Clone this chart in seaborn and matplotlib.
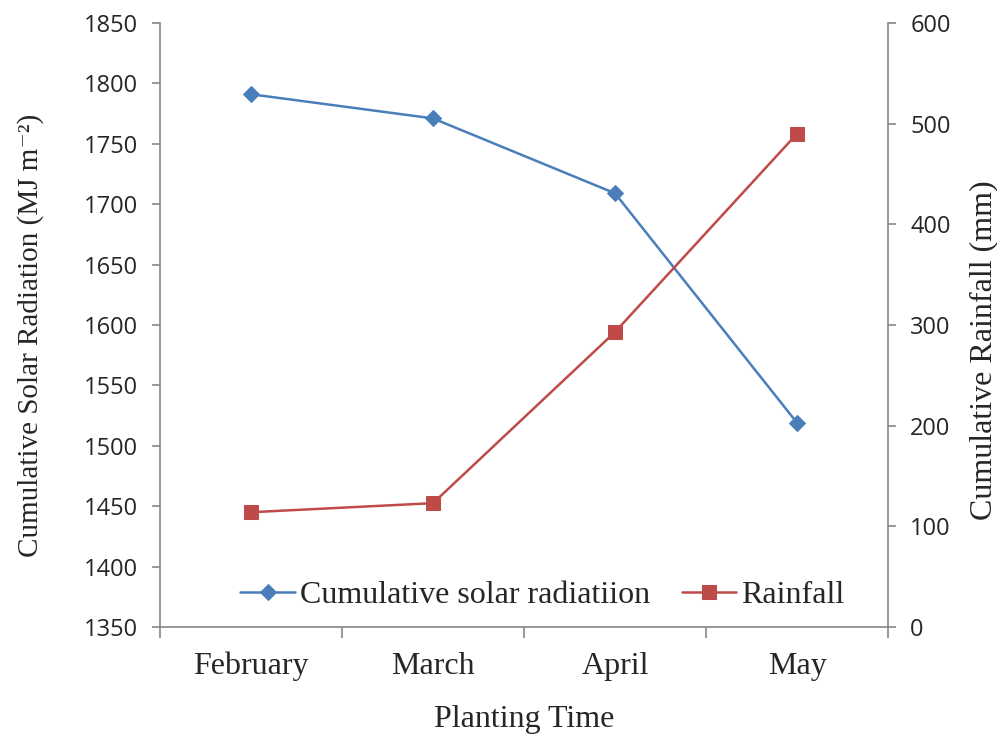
import matplotlib
matplotlib.use("Agg")
import matplotlib.pyplot as plt
import seaborn as sns
import pandas as pd
from matplotlib.ticker import FixedLocator, MultipleLocator

months = ["February", "March", "April", "May"]
solar = [1791, 1771, 1709, 1519]
rainfall = [114, 123, 293, 490]

sns.set_theme(style="white")
plt.rcParams["font.family"] = ["Liberation Serif", "DejaVu Serif"]

df = pd.DataFrame({"month": months, "solar": solar, "rain": rainfall})

fig = plt.figure(figsize=(9.97, 7.34), dpi=100)
ax = fig.add_axes([0.1605, 0.1458, 0.7302, 0.8229])
ax2 = ax.twinx()

blue = "#4A7EBB"
red = "#BE4B48"
sns.lineplot(data=df, x="month", y="solar", ax=ax, color=blue, marker="D",
             markersize=8, markeredgecolor=blue, linewidth=1.8,
             label="Cumulative solar radiatiion", legend=False)
sns.lineplot(data=df, x="month", y="rain", ax=ax2, color=red, marker="s",
             markersize=10, markeredgecolor=red, linewidth=1.8,
             label="Rainfall", legend=False)

ax.set_xlim(-0.5, 3.5)
ax.set_ylim(1350, 1850)
ax2.set_ylim(0, 600)
ax.yaxis.set_major_locator(MultipleLocator(50))
ax2.yaxis.set_major_locator(MultipleLocator(100))

spine_c = "#868686"
for a in (ax, ax2):
    for s in a.spines.values():
        s.set_color(spine_c)
        s.set_linewidth(1.2)
    a.spines["top"].set_visible(False)
ax.spines["right"].set_visible(False)
ax2.spines["left"].set_visible(False)
ax2.spines["bottom"].set_visible(False)

# x ticks: labels at centres, tick marks at boundaries
ax.xaxis.set_major_locator(FixedLocator(range(len(months))))
ax.set_xticklabels(months)
ax.xaxis.set_minor_locator(FixedLocator([-0.5, 0.5, 1.5, 2.5, 3.5]))
ax.tick_params(axis="x", which="major", length=0, pad=18, labelsize=23)
ax.tick_params(axis="x", which="minor", bottom=True, length=8, width=1.2, color=spine_c)

ax.tick_params(axis="y", left=True, length=6, width=1.2, color=spine_c, pad=10)
ax2.tick_params(axis="y", right=True, length=6, width=1.2, color=spine_c, pad=10)
for lab in ax.get_yticklabels() + ax2.get_yticklabels():
    lab.set_fontfamily("Open Sans")
    lab.set_fontsize(17)

ax.set_xlabel("Planting Time", fontsize=23, labelpad=17)
ax.set_ylabel("Cumulative Solar Radiation (MJ m\u207b\u00b2)", fontsize=21)
ax2.set_ylabel("Cumulative Rainfall (mm)", fontsize=23)
ax.yaxis.set_label_coords(-0.159, 0.482)
ax2.yaxis.set_label_coords(1.112, 0.459)

h1, l1 = ax.get_legend_handles_labels()
h2, l2 = ax2.get_legend_handles_labels()
ax2.legend(h1 + h2, l1 + l2, loc="center", bbox_to_anchor=(0.525, 0.052),
           ncol=2, frameon=False, fontsize=23, handlelength=1.7,
           columnspacing=1.0, handletextpad=0.15, borderpad=0)

ax.grid(False)
ax2.grid(False)
fig.savefig("out.png", dpi=100)
